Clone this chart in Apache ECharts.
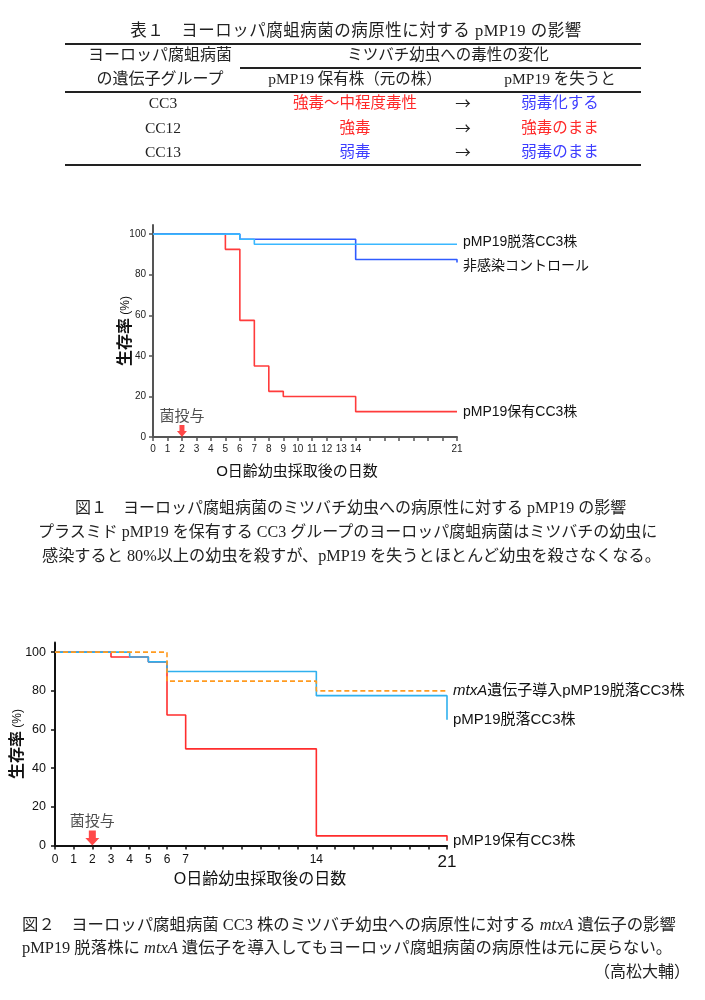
<!DOCTYPE html>
<html>
<head>
<meta charset="utf-8">
<script src="https://cdn.jsdelivr.net/npm/echarts@6/dist/echarts.min.js"></script>
<style>
body{margin:0;background:#fff;}
#page{position:relative;width:705px;height:1000px;overflow:hidden;}
#chart{position:absolute;left:0;top:0;width:705px;height:1000px;}
.t{position:absolute;white-space:nowrap;font-family:"Liberation Serif","Noto Sans CJK JP",serif;font-size:15.5px;color:#222;line-height:1;z-index:2;}
.c{transform:translate(-50%,-50%);}
.l{transform:translate(0,-50%);}
.r{transform:translate(-100%,-50%);}
.rule{position:absolute;height:1.5px;background:#222;z-index:2;}
.red{color:#ff2a2a;}
.blue{color:#3d3dff;}
.arr{font-family:"Noto Sans CJK JP",sans-serif;}
i{font-family:"Liberation Serif",serif;}
</style>
</head>
<body>
<div id="page">
  <div id="chart"></div>
  <div id="texts"></div>
</div>
<script>
// 表1
const tableTitle = '表１　ヨーロッパ腐蛆病菌の病原性に対する pMP19 の影響';
const groups = ['CC3', 'CC12', 'CC13'];
const withPlasmid = ['強毒～中程度毒性', '強毒', '弱毒'];
const withoutPlasmid = ['弱毒化する', '強毒のまま', '弱毒のまま'];
const withClass = ['red', 'red', 'blue'];
const withoutClass = ['blue', 'red', 'blue'];

// 図1 (日数, 生存率%)
const days1Carrier = [0, 5, 6, 7, 8, 9, 14, 21];
const surv1Carrier = [100, 92.5, 57.5, 35, 22.5, 20, 12.5, 12.5];
const days1Control = [0, 6, 14, 21];
const surv1Control = [100, 97.5, 87.5, 86];
const days1Cured = [0, 6, 7, 21];
const surv1Cured = [100, 97.5, 95, 95];

// 図2
const days2Carrier = [0, 3, 5, 6, 7, 14, 21];
const surv2Carrier = [100, 97.5, 95, 67.5, 50, 5, 2.5];
const days2Cured = [0, 4, 5, 6, 14, 21];
const surv2Cured = [100, 97.5, 95, 90, 77.5, 65];
const days2Mtx = [0, 6, 14, 21];
const surv2Mtx = [100, 85, 80, 80];

const dayTicks = [0,1,2,3,4,5,6,7,8,9,10,11,12,13,14,15,16,17,18,19,20,21];
const dayLabels1 = [0,1,2,3,4,5,6,7,8,9,10,11,12,13,14,21];
const dayLabels2 = [0,1,2,3,4,5,6,7,14,21];
const survTicks = [0, 20, 40, 60, 80, 100];
const doseDay = 2;

// ---- HTML text (table + captions)
let html = '';
function put(txt, x, y, cls, style){
  html += `<div class="t ${cls||'c'}" style="left:${x}px;top:${y}px;${style||''}">${txt}</div>`;
}
function rule(x, y, w){
  html += `<div class="rule" style="left:${x}px;top:${y}px;width:${w}px"></div>`;
}
put(tableTitle, 356, 31, 'c', 'font-size:16.5px;letter-spacing:0.5px;');
rule(65, 43, 576);
put('ヨーロッパ腐蛆病菌', 160, 55, 'c', 'font-size:16px;');
put('ミツバチ幼虫への毒性の変化', 448, 55);
rule(240, 67, 401);
put('の遺伝子グループ', 160, 79, 'c', 'font-size:16px;');
put('pMP19 保有株（元の株）', 355, 79);
put('pMP19 を失うと', 560, 79);
rule(65, 91, 576);
const rowY = [103, 128, 152];
groups.forEach((g, i) => {
  put(g, 163, rowY[i]);
  put(`<span class="${withClass[i]}">${withPlasmid[i]}</span>`, 355, rowY[i]);
  put('<span class="arr">→</span>', 463, rowY[i]);
  put(`<span class="${withoutClass[i]}">${withoutPlasmid[i]}</span>`, 560, rowY[i]);
});
rule(65, 164, 576);

put('図１　ヨーロッパ腐蛆病菌のミツバチ幼虫への病原性に対する pMP19 の影響', 75, 508, 'l', 'font-size:16px;');
put('プラスミド pMP19 を保有する CC3 グループのヨーロッパ腐蛆病菌はミツバチの幼虫に', 38, 532, 'l', 'font-size:16px;');
put('感染すると 80%以上の幼虫を殺すが、pMP19 を失うとほとんど幼虫を殺さなくなる。', 42, 556, 'l', 'font-size:16.2px;');

put('図２　ヨーロッパ腐蛆病菌 CC3 株のミツバチ幼虫への病原性に対する <i>mtxA</i> 遺伝子の影響', 22, 925, 'l', 'font-size:16.4px;');
put('pMP19 脱落株に <i>mtxA</i> 遺伝子を導入してもヨーロッパ腐蛆病菌の病原性は元に戻らない。', 22, 948, 'l', 'font-size:16.4px;');
put('（高松大輔）', 690, 972, 'r', 'font-size:16px;');
document.getElementById('texts').innerHTML = html;

// ---- charts
const sans = '"Liberation Sans", "Noto Sans CJK JP", sans-serif';
const toPts = (xs, ys) => xs.map((x, i) => [x, ys[i]]);
const arrowPath = 'path://M3,0L9,0L9,6L12,6L6,12L0,6L3,6Z';

function stepSeries(idx, name, xs, ys, color, lab){
  return {
    type: 'line', name: name, xAxisIndex: idx, yAxisIndex: idx,
    data: toPts(xs, ys), step: 'end', symbol: 'none',
    lineStyle: Object.assign({color: color, width: 1.6}, lab.line || {}),
    endLabel: Object.assign({
      show: true, formatter: lab.text, color: '#111', fontSize: lab.size || 14,
      fontFamily: sans, distance: 6
    }, lab.extra || {})
  };
}
function doseSeries(idx, w, h, fs){
  return {
    type: 'scatter', xAxisIndex: idx, yAxisIndex: idx, z: 5,
    data: [[doseDay, 0]], symbol: arrowPath, symbolSize: [w, h],
    symbolOffset: [0, -h / 2], itemStyle: {color: '#ff1a1a'},
    label: {show: true, position: 'top', formatter: '菌投与', fontSize: fs,
      fontFamily: sans, color: '#222', distance: 1}
  };
}
function yName(gap){
  return {
    name: '{a|生存率}{p| (%)}', nameLocation: 'middle', nameRotate: 90, nameGap: gap,
    nameMoveOverlap: false,
    nameTextStyle: {rich: {
      a: {fontSize: 16, fontWeight: 'bold', color: '#111', fontFamily: sans},
      p: {fontSize: 12, color: '#111', fontFamily: sans}}}
  };
}

const myChart = echarts.init(document.getElementById('chart'));
myChart.setOption({
  animation: false,
  grid: [
    {left: 153, top: 225, width: 304, height: 212, outerBoundsMode: 'none', containLabel: false},
    {left: 55, top: 642.5, width: 392, height: 203, outerBoundsMode: 'none', containLabel: false}
  ],
  xAxis: [
    {
      gridIndex: 0, type: 'value', min: 0, max: 21,
      axisLine: {lineStyle: {color: '#555', width: 2}},
      axisTick: {customValues: dayTicks, length: 4, lineStyle: {color: '#555', width: 1.5}},
      axisLabel: {customValues: dayLabels1, fontSize: 10, color: '#222', margin: 7, fontFamily: sans},
      splitLine: {show: false}
    },
    {
      gridIndex: 1, type: 'value', min: 0, max: 21,
      axisLine: {lineStyle: {color: '#111', width: 2}},
      axisTick: {customValues: dayTicks, length: 4, lineStyle: {color: '#111', width: 1.5}},
      axisLabel: {customValues: dayLabels2, fontSize: 12, color: '#111', margin: 8, fontFamily: sans,
        formatter: v => v === 21 ? '{b|21}' : String(v),
        rich: {b: {fontSize: 17, color: '#111', fontFamily: sans}}},
      splitLine: {show: false}
    }
  ],
  yAxis: [
    Object.assign({
      gridIndex: 0, type: 'value', min: 0, max: 104.5,
      axisLine: {show: true, lineStyle: {color: '#555', width: 2}},
      axisTick: {show: true, customValues: survTicks, length: 4, lineStyle: {color: '#555', width: 1.5}},
      axisLabel: {customValues: survTicks, fontSize: 10, color: '#222', margin: 7, fontFamily: sans},
      splitLine: {show: false}
    }, yName(19)),
    Object.assign({
      gridIndex: 1, type: 'value', min: 0, max: 105,
      axisLine: {show: true, lineStyle: {color: '#111', width: 2}},
      axisTick: {show: true, customValues: survTicks, length: 4, lineStyle: {color: '#111', width: 1.5}},
      axisLabel: {customValues: survTicks, fontSize: 12.5, color: '#111', margin: 9, fontFamily: sans},
      splitLine: {show: false}
    }, yName(29))
  ],
  graphic: [
    {type: 'text', left: 'center', top: 0, style: {text: ''}},
    {type: 'text', x: 297, y: 472, style: {text: 'O日齢幼虫採取後の日数', font: '15px ' + sans, fill: '#111', align: 'center', verticalAlign: 'middle'}},
    {type: 'text', x: 260, y: 880, style: {text: 'O日齢幼虫採取後の日数', font: '16px ' + sans, fill: '#111', align: 'center', verticalAlign: 'middle'}}
  ],
  series: [
    stepSeries(0, 'carrier1', days1Carrier, surv1Carrier, '#ff3b3b', {text: 'pMP19保有CC3株'}),
    stepSeries(0, 'control1', days1Control, surv1Control, '#2f5bff', {text: '非感染コントロール', extra: {offset: [0, 4]}}),
    stepSeries(0, 'cured1', days1Cured, surv1Cured, '#3ab8ff', {text: 'pMP19脱落CC3株', extra: {offset: [0, -2]}}),
    doseSeries(0, 10, 12, 15),
    stepSeries(1, 'carrier2', days2Carrier, surv2Carrier, '#ff2d2d', {text: 'pMP19保有CC3株', size: 15}),
    stepSeries(1, 'cured2', days2Cured, surv2Cured, '#2fb0ee', {text: 'pMP19脱落CC3株', size: 15}),
    stepSeries(1, 'mtx2', days2Mtx, surv2Mtx, '#ff9b20', {
      text: '{i|mtxA}遺伝子導入pMP19脱落CC3株', size: 15,
      line: {type: [5, 3]},
      extra: {rich: {i: {fontStyle: 'italic', fontSize: 15, color: '#111', fontFamily: sans}}}
    }),
    doseSeries(1, 14, 15, 15)
  ]
});
</script>
</body>
</html>
